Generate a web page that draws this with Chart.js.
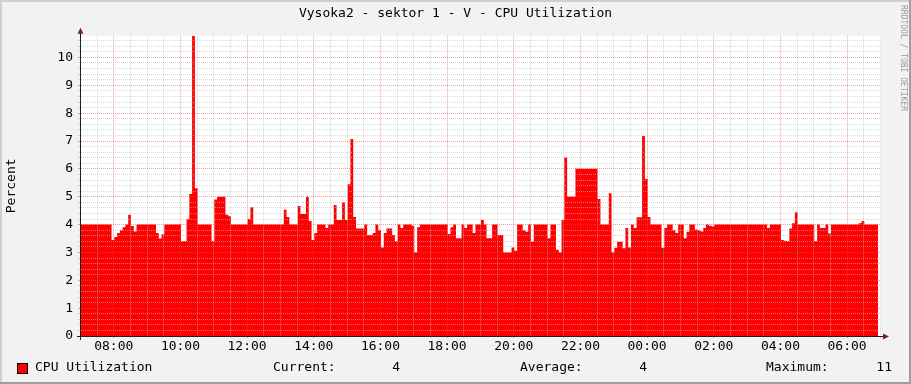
<!DOCTYPE html>
<html>
<head>
<meta charset="utf-8">
<script src="https://cdn.jsdelivr.net/npm/chart.js@4.4.1/dist/chart.umd.min.js"></script>
<style>
  html, body { margin: 0; padding: 0; background: #f2f2f2; }
  #wrap { width: 911px; height: 384px; }
</style>
</head>
<body>
<div id="wrap"><canvas id="chart" width="911" height="384"></canvas></div>
<script>
// time axis in minutes since midnight, one value every 5 minutes
const startMinute = 421;
const stepMinutes = 5;
const cpuUtil = [
  4,4,4,4,4,4,4,4,4,4,4,3.45,
  3.55,3.7,3.8,3.9,4,4.35,3.95,3.75,4,4,4,4,
  4,4,4,3.7,3.5,3.65,4,4,4,4,4,4,
  3.4,3.4,4.2,5.1,10.78,5.3,4,4,4,4,4,3.4,
  4.9,5,5,5,4.35,4.3,4,4,4,4,4,4,
  4.2,4.62,4,4,4,4,4,4,4,4,4,4,
  4,4.53,4.27,4,4,4,4.67,4.38,4.38,4.99,4.13,3.45,
  3.7,4,4,4,3.88,4,4,4.7,4.16,4.16,4.79,4.16,
  5.45,7.07,4.27,3.86,3.86,3.86,4,3.63,3.63,3.7,4,3.8,
  3.18,3.7,3.86,3.86,3.63,3.4,4,3.88,4,4,4,3.96,
  3,3.9,4,4,4,4,4,4,4,4,4,4,
  3.66,3.9,4,3.51,3.51,4,3.88,4,4,3.7,4,4,
  4.16,4,3.51,3.51,4,4,3.63,3.63,3,3,3,3.18,
  3.06,4,4,3.8,3.74,4,3.38,4,4,4,4,4,
  3.51,4,4,3.1,3,4.16,6.41,5,5,5,6,6,
  6,6,6,6,6,6,4.92,4,4,4,5.12,3,
  3.17,3.38,3.38,3.15,3.88,3.18,4,3.88,4.26,4.26,7.18,5.64,
  4.27,4,4,4,4,3.17,3.88,4,4,3.8,3.7,4,
  4,3.51,3.74,4,4,3.82,3.8,3.75,3.88,4,3.96,3.93,
  4,4,4,4,4,4,4,4,4,4,4,4,
  4,4,4,4,4,4,4,3.88,4,4,4,4,
  3.45,3.42,3.4,3.86,4.05,4.44,4,4,4,4,4,4,
  3.4,4,3.88,3.88,4,3.68,4,4,4,4,4,4,
  4,4,4,4,4.05,4.13,4,4,4,4,4
];
const yMax = 10.78;
const xGridStep = 30;
const xLabelStep = 120;
const yGridStep = 0.2;

const chartTitle = 'Vysoka2 - sektor 1 - V - CPU Utilization';
const minorGrid = 'rgba(190,190,190,0.6)';
const majorGrid = 'rgba(222,79,79,0.55)';
const fontFamily = '"DejaVu Sans Mono", monospace';

function hhmm(m){
    const h = Math.floor(m / 60) % 24;
    const mm = m % 60;
    return String(h).padStart(2, '0') + ':' + String(mm).padStart(2, '0');
}

function isWhole(v){
    return Math.abs(v - Math.round(v)) < 1e-6;
}

function buildPoints(){
    const pts = cpuUtil.map((v, i) => ({x: startMinute + i * stepMinutes, y: v}));
    const n = cpuUtil.length;
    pts.push({x: startMinute + n * stepMinutes, y: cpuUtil[n - 1]});
    return pts;
}

const rrdFrame = {
    id: 'rrdFrame',
    beforeDraw(chart){
        const ctx = chart.ctx;
        const a = chart.chartArea;
        const W = chart.width, H = chart.height;
        ctx.save();
        ctx.fillStyle = '#f2f2f2';
        ctx.fillRect(0, 0, W, H);
        ctx.fillStyle = '#cfcfcf';
        ctx.fillRect(0, 0, W, 2);
        ctx.fillRect(0, 0, 2, H);
        ctx.fillStyle = '#9e9e9e';
        ctx.fillRect(0, H - 2, W, 2);
        ctx.fillRect(W - 2, 0, 2, H);
        ctx.fillStyle = '#ffffff';
        ctx.fillRect(a.left, a.top, a.right - a.left, a.bottom - a.top);
        ctx.restore();
    },
    afterDraw(chart){
        const ctx = chart.ctx;
        const a = chart.chartArea;
        ctx.save();

        // title, centred on the whole image
        ctx.font = '13px ' + fontFamily;
        ctx.fillStyle = '#000';
        ctx.textBaseline = 'middle';
        ctx.textAlign = 'center';
        ctx.fillText(chartTitle, chart.width / 2, 14);

        // axes with arrows
        ctx.strokeStyle = '#1f1f1f';
        ctx.lineWidth = 1;
        ctx.beginPath();
        ctx.moveTo(a.left - 0.5, a.bottom + 4);
        ctx.lineTo(a.left - 0.5, a.top - 5);
        ctx.moveTo(a.left - 4, a.bottom + 0.5);
        ctx.lineTo(a.right + 4, a.bottom + 0.5);
        ctx.stroke();
        ctx.fillStyle = '#801f1f';
        ctx.beginPath();
        ctx.moveTo(a.left - 3.5, a.top - 2);
        ctx.lineTo(a.left + 2.5, a.top - 2);
        ctx.lineTo(a.left - 0.5, a.top - 8);
        ctx.closePath();
        ctx.fill();
        ctx.beginPath();
        ctx.moveTo(a.right + 2, a.bottom - 2.5);
        ctx.lineTo(a.right + 2, a.bottom + 3.5);
        ctx.lineTo(a.right + 8, a.bottom + 0.5);
        ctx.closePath();
        ctx.fill();

        // legend row
        const n = cpuUtil.length;
        const current = cpuUtil[n - 1];
        const average = cpuUtil.reduce((s, v) => s + v, 0) / n;
        const maximum = Math.max(...cpuUtil);
        const y = 368;
        ctx.fillStyle = '#ff0000';
        ctx.fillRect(17.5, 363.5, 10, 10);
        ctx.strokeStyle = '#000';
        ctx.strokeRect(17.5, 363.5, 10, 10);
        ctx.fillStyle = '#000';
        ctx.textAlign = 'left';
        ctx.fillText('CPU Utilization', 35, y);
        ctx.fillText('Current:', 273, y);
        ctx.fillText('Average:', 520, y);
        ctx.fillText('Maximum:', 766, y);
        ctx.textAlign = 'right';
        ctx.fillText(current.toFixed(0), 400, y);
        ctx.fillText(average.toFixed(0), 647, y);
        ctx.fillText(maximum.toFixed(0), 892, y);

        // watermark
        ctx.translate(903, 5);
        ctx.rotate(Math.PI / 2);
        ctx.font = '8px ' + fontFamily;
        ctx.fillStyle = '#9a9a9a';
        ctx.textAlign = 'left';
        ctx.fillText('RRDTOOL / TOBI OETIKER', 0, 0);
        ctx.restore();
    }
};

const config = {
    type: 'line',
    data: {
        datasets: [{
            label: 'CPU Utilization',
            data: buildPoints(),
            stepped: 'before',
            fill: 'origin',
            backgroundColor: '#ff0000',
            borderColor: '#ff0000',
            borderWidth: 0,
            pointRadius: 0
        }]
    },
    options: {
        responsive: false,
        animation: false,
        events: [],
        layout: { padding: { left: 0, right: 30, top: 35.7, bottom: 24 } },
        plugins: {
            legend: { display: false },
            tooltip: { enabled: false },
            title: { display: false }
        },
        scales: {
            x: {
                type: 'linear',
                min: startMinute,
                max: startMinute + 1440,
                afterBuildTicks: scale => {
                    const ticks = [];
                    for (let v = Math.ceil(startMinute / xGridStep) * xGridStep; v <= startMinute + 1440; v += xGridStep) {
                        ticks.push({value: v});
                    }
                    scale.ticks = ticks;
                },
                afterFit: scale => { scale.height = 24; },
                ticks: {
                    autoSkip: false,
                    maxRotation: 0,
                    padding: 1,
                    color: '#000',
                    font: { family: fontFamily, size: 13 },
                    callback: v => v % xLabelStep === 0 ? hhmm(v) : ''
                },
                grid: {
                    z: 1,
                    tickLength: 2,
                    color: c => c.tick && c.tick.value % xLabelStep === 0 ? majorGrid : minorGrid,
                    tickColor: c => c.tick && c.tick.value % xLabelStep === 0 ? majorGrid : minorGrid
                },
                border: { display: false, dash: [1, 1] }
            },
            y: {
                min: 0,
                max: yMax,
                afterBuildTicks: scale => {
                    const ticks = [];
                    for (let k = 0; k * yGridStep <= yMax + 1e-9; k++) {
                        ticks.push({value: +(k * yGridStep).toFixed(1)});
                    }
                    scale.ticks = ticks;
                },
                afterFit: scale => { scale.width = 81; },
                title: {
                    display: true,
                    text: 'Percent',
                    color: '#000',
                    font: { family: fontFamily, size: 13 },
                    padding: { top: 4, bottom: 0 }
                },
                ticks: {
                    autoSkip: false,
                    padding: 5,
                    color: '#000',
                    font: { family: fontFamily, size: 13 },
                    callback: v => isWhole(v) ? String(Math.round(v)) : ''
                },
                grid: {
                    z: 1,
                    tickLength: 3,
                    color: c => c.tick && isWhole(c.tick.value) ? majorGrid : minorGrid,
                    tickColor: c => c.tick && isWhole(c.tick.value) ? majorGrid : minorGrid
                },
                border: { display: false, dash: [1, 1] }
            }
        }
    },
    plugins: [rrdFrame]
};

function main(){
    new Chart(document.getElementById('chart'), config);
}

document.addEventListener("DOMContentLoaded", main);
</script>
</body>
</html>
